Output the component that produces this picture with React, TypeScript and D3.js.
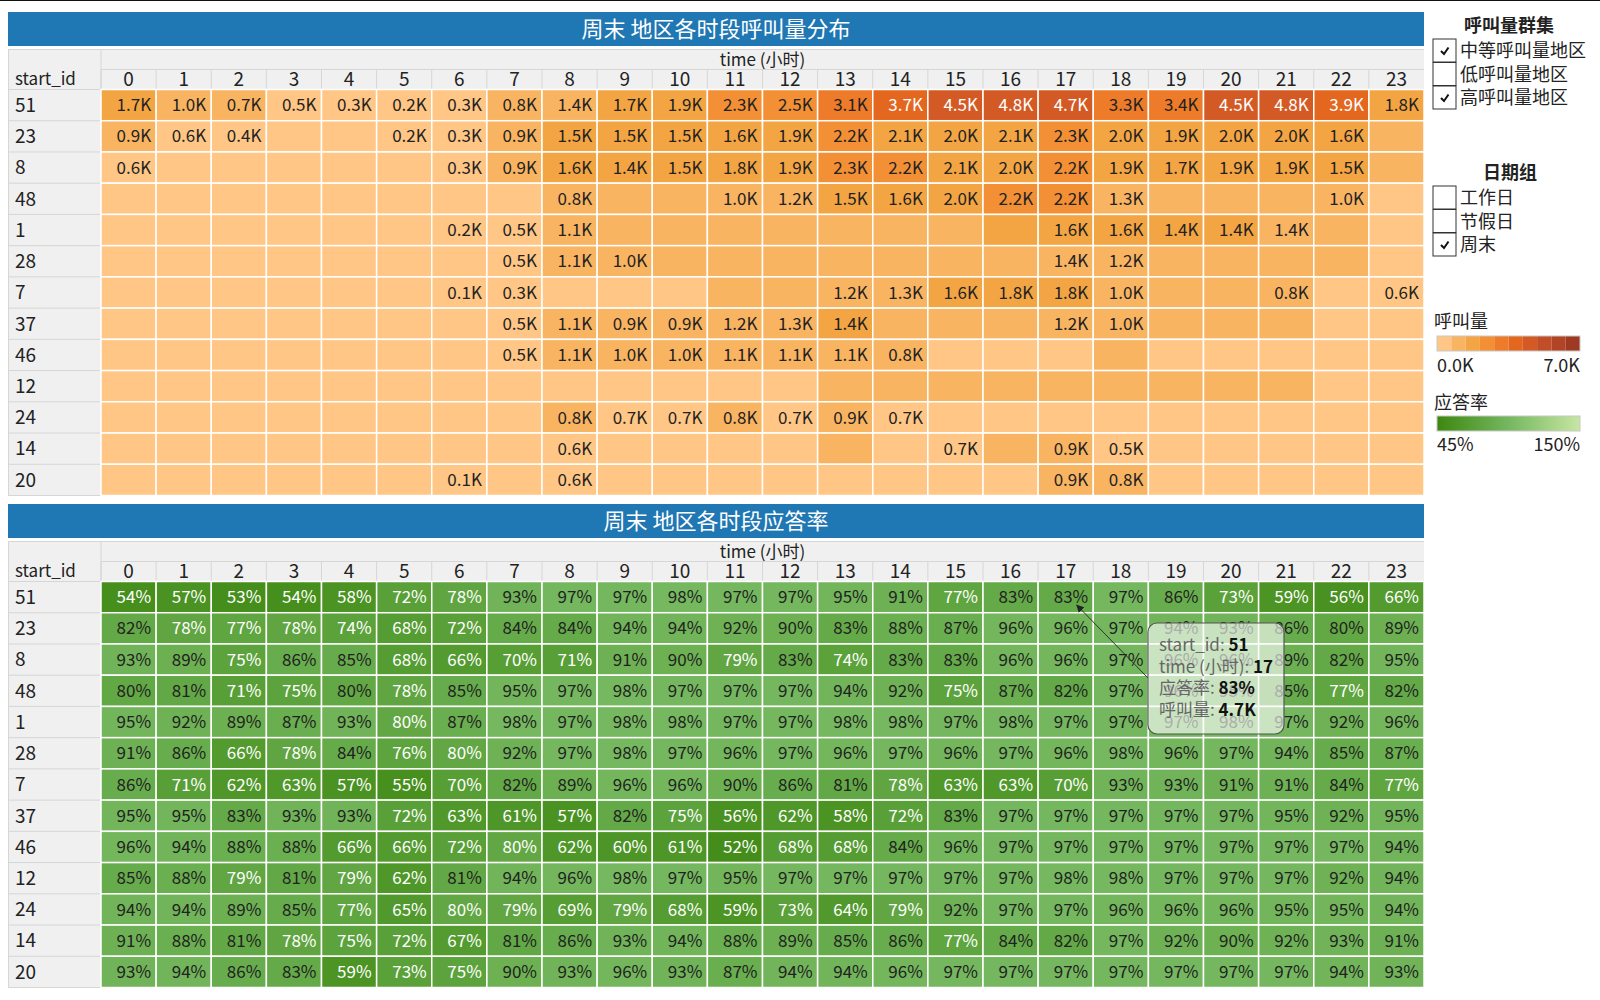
import React from 'react';
import * as d3 from 'd3';

// hours on the x axis and start_id rows, top to bottom
const hours = ['0','1','2','3','4','5','6','7','8','9','10','11','12','13','14','15','16','17','18','19','20','21','22','23'];
const startIds = ['51','23','8','48','1','28','7','37','46','12','24','14','20'];

// call volume (K) per start_id row; unlabeled cells estimated from their colour
const callVolume: number[][] = [
  [1.7,1.0,0.72,0.5,0.3,0.2,0.3,0.8,1.38,1.7,1.9,2.3,2.5,3.1,3.7,4.5,4.8,4.7,3.3,3.4,4.5,4.8,3.9,1.8],
  [0.9,0.6,0.4,0.2,0.2,0.2,0.3,0.9,1.5,1.5,1.5,1.6,1.9,2.2,2.08,2.0,2.06,2.3,2.0,1.9,2.0,2.0,1.6,1.2],
  [0.6,0.4,0.2,0.1,0.1,0.1,0.3,0.9,1.6,1.42,1.5,1.8,1.9,2.3,2.2,2.08,2.0,2.2,1.9,1.7,1.9,1.9,1.5,1.1],
  [0.1,0.1,0.1,0.1,0.1,0.1,0.2,0.5,0.8,0.9,0.9,1.0,1.2,1.5,1.6,2.0,2.2,2.2,1.3,1.1,1.0,1.0,1.0,0.6],
  [0.1,0.1,0.1,0.1,0.1,0.1,0.2,0.5,1.1,1.2,1.2,1.2,1.3,1.3,1.3,1.3,1.5,1.6,1.6,1.42,1.42,1.38,1.0,0.6],
  [0.1,0.1,0.1,0.1,0.1,0.1,0.2,0.5,1.1,1.0,0.9,0.9,1.0,1.0,1.1,1.1,1.2,1.38,1.2,1.0,1.0,0.9,0.9,0.6],
  [0.1,0.1,0.1,0.1,0.1,0.1,0.1,0.3,0.5,0.6,0.6,0.9,1.0,1.2,1.3,1.6,1.8,1.8,1.0,0.9,0.9,0.8,0.5,0.6],
  [0.1,0.1,0.1,0.1,0.1,0.1,0.2,0.5,1.1,0.9,0.9,1.2,1.3,1.42,1.1,1.0,1.0,1.2,1.0,0.9,0.9,0.8,0.6,0.5],
  [0.1,0.1,0.1,0.1,0.1,0.1,0.2,0.5,1.1,1.0,1.0,1.1,1.1,1.1,0.8,0.6,0.6,0.6,0.8,0.6,0.5,0.5,0.4,0.3],
  [0.0,0.0,0.0,0.0,0.0,0.0,0.1,0.3,0.5,0.6,0.6,0.6,0.6,0.8,0.8,0.8,0.9,0.9,0.9,0.8,0.8,0.8,0.6,0.4],
  [0.0,0.0,0.0,0.0,0.0,0.0,0.1,0.3,0.8,0.68,0.68,0.8,0.68,0.9,0.68,0.6,0.6,0.6,0.6,0.5,0.5,0.5,0.4,0.3],
  [0.0,0.0,0.0,0.0,0.0,0.0,0.1,0.3,0.6,0.5,0.5,0.5,0.6,0.72,0.6,0.68,0.8,0.9,0.5,0.4,0.4,0.4,0.3,0.2],
  [0.0,0.0,0.0,0.0,0.0,0.0,0.1,0.3,0.6,0.5,0.5,0.5,0.5,0.5,0.5,0.6,0.6,0.9,0.8,0.5,0.4,0.4,0.3,0.2],
];

// which volume cells carry a label (1) in the reference
const volumeLabelMask = [
  '111111111111111111111111',
  '111001111111111111111110',
  '100000111111111111111110',
  '000000001001111111100010',
  '000000111000000001111100',
  '000000011100000001100000',
  '000000110000011111100101',
  '000000011111110001100000',
  '000000011111111000000000',
  '000000000000000000000000',
  '000000001111111000000000',
  '000000001000000101100000',
  '000000101000000001100000',
];

// answer rate (%) per start_id row
const answerRate: number[][] = [
  [54,57,53,54,58,72,78,93,97,97,98,97,97,95,91,77,83,83,97,86,73,59,56,66],
  [82,78,77,78,74,68,72,84,84,94,94,92,90,83,88,87,96,96,97,94,93,86,80.4,89],
  [93,89,75,86,85,68,66,70,71,91,90,79,83,74,83,83,96,96,97,96,96,89,82,95],
  [80.4,81,71,75,80.4,78,85,95,97,98,97,97,97,94,92,75,87,82,97,96,95,85,77,82],
  [95,92,89,87,93,79.6,87,98,97,98,98,97,97,98,98,97,98,97,97,97,98,97,92,96],
  [91,86,66,78,84,76,79.6,92,97,98,97,96,97,96,97,96,97,96,98,96,97,94,85,87],
  [86,71,62,63,57,55,70,82,89,96,96,90,86,81,78,63,63,70,93,93,91,91,84,77],
  [95,95,83,93,93,72,63,61,57,82,75,56,62,58,72,83,97,97,97,97,97,95,92,95],
  [96,94,88,88,66,66,72,79.6,62,60,61,52,68,68,84,96,97,97,97,97,97,97,97,94],
  [85,88,79,81,79,62,81,94,96,98,97,95,97,97,97,97,97,98,98,97,97,97,92,94],
  [94,94,89,85,77,65,79.6,79,69,79,68,59,73,64,79,92,97,97,96,96,96,95,95,94],
  [91,88,81,78,75,72,67,81,86,93,94,88,89,85,86,77,84,82,97,92,90,92,93,91],
  [93,94,86,83,59,73,75,90,93,96,93,87,94,94,96,97,97,97,97,97,97,97,94,93],
];

const clusterItems = [
  { label: '中等呼叫量地区', checked: true },
  { label: '低呼叫量地区', checked: false },
  { label: '高呼叫量地区', checked: true },
];
const dateItems = [
  { label: '工作日', checked: false },
  { label: '节假日', checked: false },
  { label: '周末', checked: true },
];

const volumeDomain = [0, 7];
const rateDomain = [45, 150];

const FONT = '"Noto Sans CJK SC", "Noto Sans", sans-serif';
const orangeSteps = ['#ffc685','#f9b462','#f4a543','#f39036','#ed7b29','#e3671f','#d45a25','#c24e27','#b04425','#9f3a22'];
const volColor = d3.scaleQuantize<string>().domain(volumeDomain).range(orangeSteps);
const rateColor = d3.scaleLinear<string>()
  .domain([rateDomain[0], 97, rateDomain[1]])
  .range(['#3d870f', '#74b75e', '#c6e7a2'])
  .interpolate(d3.interpolateRgb);

const x = d3.scaleBand<string>().domain(hours).range([101, 1424]);
const fmtK = (v: number) => d3.format('.1f')(v) + 'K';
const fmtPct = (v: number) => Math.round(v) + '%';

interface PanelProps {
  top: number;
  title: string;
  values: number[][];
  fill: (v: number) => string;
  textFill: (v: number) => string;
  format: (v: number) => string;
  shown: (r: number, c: number) => boolean;
}

const Panel: React.FC<PanelProps> = ({ top, title, values, fill, textFill, format, shown }) => {
  const y = d3.scaleBand<string>().domain(startIds).range([top + 77.5, top + 483.5]);
  const bw = x.bandwidth();
  const bh = y.bandwidth();
  const hdrTop = top + 37.5;
  const hdrMid = top + 57.5;
  const hdrBot = top + 77.5;
  return (
    <g>
      <rect x={8} y={top} width={1416} height={34} fill="#1f77b4" />
      <text x={716} y={top + 17} dy="0.35em" textAnchor="middle" fill="#fff" fontSize={22}>{title}</text>

      {/* header block */}
      <rect x={8} y={hdrTop} width={1416} height={40} fill="#f0f0f0" />
      <line x1={8} x2={1424} y1={hdrTop} y2={hdrTop} stroke="#d6d6d6" />
      <line x1={101} x2={1424} y1={hdrMid} y2={hdrMid} stroke="#d6d6d6" />
      <line x1={101} x2={101} y1={hdrTop} y2={hdrBot} stroke="#d6d6d6" />
      {hours.map(h => (
        <line key={h} x1={x(h)!} x2={x(h)!} y1={hdrMid} y2={hdrBot} stroke="#d6d6d6" />
      ))}
      <text x={(101 + 1424) / 2} y={top + 48} dy="0.35em" textAnchor="middle" fontSize={17} fill="#222">time (小时)</text>
      {hours.map(h => (
        <text key={h} x={x(h)! + bw / 2} y={top + 67.5} dy="0.35em" textAnchor="middle" fontSize={19} fill="#222">{h}</text>
      ))}
      <text x={15} y={top + 67.5} dy="0.35em" fontSize={17} fill="#222">start_id</text>

      {/* row header */}
      <rect x={8} y={hdrBot} width={93} height={bh * startIds.length} fill="#f0f0f0" />
      {startIds.map(id => (
        <g key={id}>
          <line x1={8} x2={101} y1={y(id)!} y2={y(id)!} stroke="#d6d6d6" />
          <text x={15} y={y(id)! + bh / 2} dy="0.36em" fontSize={19} fill="#222">{id}</text>
        </g>
      ))}
      <line x1={8} x2={1424} y1={top + 483.5} y2={top + 483.5} stroke="#d6d6d6" />
      <line x1={8.5} x2={8.5} y1={hdrTop} y2={top + 483.5} stroke="#d6d6d6" />

      {/* cells */}
      {startIds.map((id, r) => hours.map((h, c) => {
        const v = values[r][c];
        return (
          <g key={id + '-' + h}>
            <rect x={x(h)!} y={y(id)!} width={bw} height={bh} fill={fill(v)} stroke="#fff" strokeWidth={1.5} />
            {shown(r, c) && (
              <text x={x(h)! + bw - 5} y={y(id)! + bh / 2} dy="0.36em" textAnchor="end" fontSize={17} fill={textFill(v)}>
                {format(v)}
              </text>
            )}
          </g>
        );
      }))}
    </g>
  );
};

const CheckBox: React.FC<{ x: number; y: number; checked: boolean; label: string }> = ({ x: bx, y: by, checked, label }) => (
  <g>
    <rect x={bx} y={by} width={23} height={23} fill="#fff" stroke="#333" strokeWidth={1} />
    {checked && (
      <path d={`M${bx + 8},${by + 12} L${bx + 11},${by + 15} L${bx + 15.5},${by + 8.5}`} fill="none" stroke="#111" strokeWidth={2} />
    )}
    <text x={bx + 27} y={by + 12} dy="0.36em" fontSize={18} fill="#222">{label}</text>
  </g>
);

const App: React.FC = () => {
  const yBot = d3.scaleBand<string>().domain(startIds).range([581, 987]);
  const tipRow = 0;
  const tipCol = 17;
  const tipX = x(hours[tipCol])! + x.bandwidth() * 0.7;
  const tipY = yBot(startIds[tipRow])! + yBot.bandwidth() * 0.77;

  const stepW = (1580 - 1437) / orangeSteps.length;
  const gradStops = d3.range(0, 1.001, 0.1);

  return (
    <svg width={1600} height={1000} style={{ position: 'absolute', left: 0, top: 0, background: '#fff' }} fontFamily={FONT}>
      <defs>
        <linearGradient id="rate-grad" x1="0%" x2="100%">
          {gradStops.map(t => (
            <stop key={t} offset={`${t * 100}%`} stopColor={rateColor(rateDomain[0] + t * (rateDomain[1] - rateDomain[0]))} />
          ))}
        </linearGradient>
        <marker id="arrow" viewBox="0 0 10 10" refX={9} refY={5} markerWidth={8} markerHeight={8} orient="auto-start-reverse">
          <path d="M0,0 L10,5 L0,10 z" fill="#222" />
        </marker>
      </defs>
      <line x1={0} x2={1600} y1={0.5} y2={0.5} stroke="#111" />

      <Panel
        top={12}
        title="周末 地区各时段呼叫量分布"
        values={callVolume}
        fill={volColor}
        textFill={v => (v >= 3.5 ? '#fff' : '#222')}
        format={fmtK}
        shown={(r, c) => volumeLabelMask[r][c] === '1'}
      />
      <Panel
        top={504}
        title="周末 地区各时段应答率"
        values={answerRate}
        fill={rateColor}
        textFill={v => (v < 80 ? '#fff' : '#222')}
        format={fmtPct}
        shown={() => true}
      />

      {/* legends */}
      <text x={1509} y={26} dy="0.36em" textAnchor="middle" fontSize={18} fontWeight="bold" fill="#222">呼叫量群集</text>
      {clusterItems.map((d, i) => (
        <CheckBox key={d.label} x={1433} y={39 + i * 23.5} checked={d.checked} label={d.label} />
      ))}
      <text x={1510} y={173} dy="0.36em" textAnchor="middle" fontSize={18} fontWeight="bold" fill="#222">日期组</text>
      {dateItems.map((d, i) => (
        <CheckBox key={d.label} x={1433} y={186 + i * 23.5} checked={d.checked} label={d.label} />
      ))}

      <text x={1434} y={322} dy="0.36em" fontSize={18} fill="#222">呼叫量</text>
      {orangeSteps.map((c, i) => (
        <rect key={c} x={1437 + i * stepW} y={336} width={stepW} height={15} fill={c} />
      ))}
      <rect x={1437} y={336} width={1580 - 1437} height={15} fill="none" stroke="#c8c8c8" />
      <text x={1437} y={366} dy="0.36em" fontSize={18} fill="#222">{fmtK(volumeDomain[0])}</text>
      <text x={1580} y={366} dy="0.36em" textAnchor="end" fontSize={18} fill="#222">{fmtK(volumeDomain[1])}</text>

      <text x={1434} y={403} dy="0.36em" fontSize={18} fill="#222">应答率</text>
      <rect x={1437} y={416} width={1580 - 1437} height={15} fill="url(#rate-grad)" stroke="#c8c8c8" />
      <text x={1437} y={445} dy="0.36em" fontSize={18} fill="#222">{rateDomain[0]}%</text>
      <text x={1580} y={445} dy="0.36em" textAnchor="end" fontSize={18} fill="#222">{rateDomain[1]}%</text>

      {/* tooltip */}
      <line x1={1148} y1={678} x2={tipX} y2={tipY} stroke="#333" strokeWidth={1} markerEnd="url(#arrow)" />
      <rect x={1148} y={623} width={136} height={111} rx={9} fill="#fff" fillOpacity={0.62} stroke="#555" strokeWidth={1.2} />
      {[
        ['start_id: ', startIds[tipRow]],
        ['time (小时): ', hours[tipCol]],
        ['应答率: ', fmtPct(answerRate[tipRow][tipCol])],
        ['呼叫量: ', fmtK(callVolume[tipRow][tipCol])],
      ].map(([k, v], i) => (
        <text key={k} x={1159} y={645 + i * 21.5} dy="0.36em" fontSize={17}>
          <tspan fill="#666">{k}</tspan>
          <tspan fill="#111" fontWeight="bold">{v}</tspan>
        </text>
      ))}
    </svg>
  );
};

export default App;
